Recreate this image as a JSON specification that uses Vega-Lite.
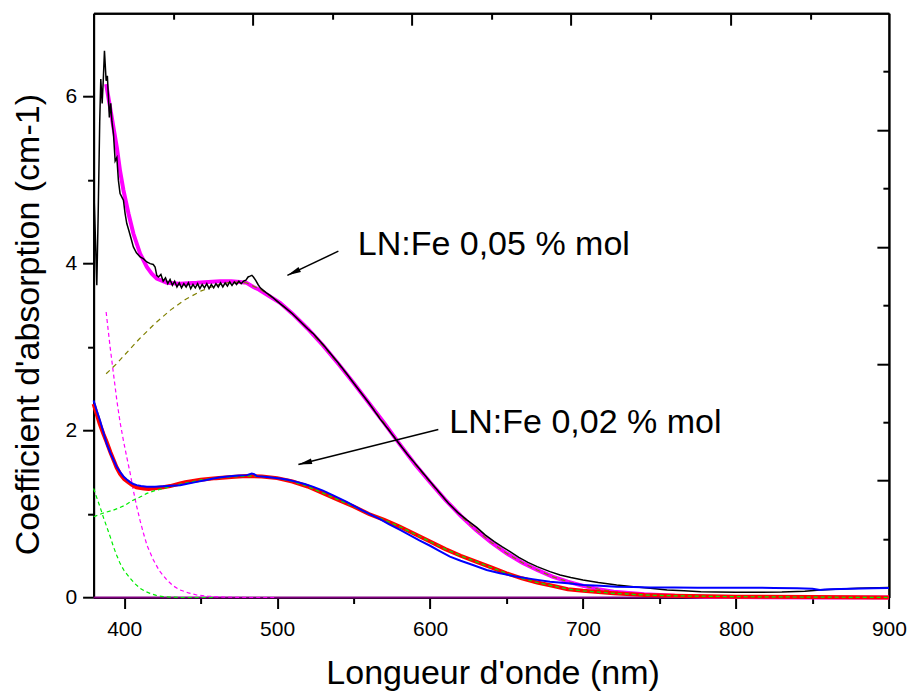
{
  "$schema": "https://vega.github.io/schema/vega-lite/v6.json",
  "width": 795.3,
  "height": 584.3,
  "autosize": {"type": "none"},
  "padding": {"left": 93.6, "top": 13.2, "right": 22.1, "bottom": 93.5},
  "background": "#ffffff",
  "config": {
    "view": {"stroke": null},
    "axis": {
      "grid": false,
      "domainColor": "#000000",
      "domainWidth": 2,
      "tickColor": "#000000",
      "tickWidth": 2,
      "labelFont": "Liberation Sans",
      "labelFontSize": 21,
      "labelColor": "#000000",
      "titleFont": "Liberation Sans",
      "titleFontWeight": "normal",
      "titleColor": "#000000"
    }
  },
  "resolve": {"axis": {"x": "independent", "y": "independent"}},
  "datasets": {
    "curves": [
      {"s": "base", "nm": 380, "k": 0}, {"s": "base", "nm": 900, "k": 0},

      {"s": "uv005", "nm": 388.2, "k": 3.42}, {"s": "uv005", "nm": 390.8, "k": 3.0}, {"s": "uv005", "nm": 393, "k": 2.68}, {"s": "uv005", "nm": 395.2, "k": 2.36}, {"s": "uv005", "nm": 397.3, "k": 2.1}, {"s": "uv005", "nm": 399.5, "k": 1.88}, {"s": "uv005", "nm": 401.7, "k": 1.68}, {"s": "uv005", "nm": 403.9, "k": 1.49}, {"s": "uv005", "nm": 406, "k": 1.28}, {"s": "uv005", "nm": 408.2, "k": 1.09}, {"s": "uv005", "nm": 410.4, "k": 0.92}, {"s": "uv005", "nm": 412.6, "k": 0.77}, {"s": "uv005", "nm": 415, "k": 0.62}, {"s": "uv005", "nm": 419.1, "k": 0.45}, {"s": "uv005", "nm": 423, "k": 0.32}, {"s": "uv005", "nm": 427.9, "k": 0.21}, {"s": "uv005", "nm": 432, "k": 0.14}, {"s": "uv005", "nm": 436.6, "k": 0.09}, {"s": "uv005", "nm": 442, "k": 0.055}, {"s": "uv005", "nm": 447.5, "k": 0.03}, {"s": "uv005", "nm": 455, "k": 0.015}, {"s": "uv005", "nm": 465, "k": 0.005}, {"s": "uv005", "nm": 480, "k": 0}, {"s": "uv005", "nm": 500, "k": 0},

      {"s": "uv002", "nm": 380, "k": 1.306}, {"s": "uv002", "nm": 382, "k": 1.2}, {"s": "uv002", "nm": 384.2, "k": 1.086}, {"s": "uv002", "nm": 386.4, "k": 0.96}, {"s": "uv002", "nm": 388.6, "k": 0.847}, {"s": "uv002", "nm": 391, "k": 0.72}, {"s": "uv002", "nm": 393, "k": 0.608}, {"s": "uv002", "nm": 395, "k": 0.51}, {"s": "uv002", "nm": 397.3, "k": 0.409}, {"s": "uv002", "nm": 400, "k": 0.32}, {"s": "uv002", "nm": 403.9, "k": 0.23}, {"s": "uv002", "nm": 407, "k": 0.165}, {"s": "uv002", "nm": 410.4, "k": 0.11}, {"s": "uv002", "nm": 413.5, "k": 0.075}, {"s": "uv002", "nm": 416.9, "k": 0.05}, {"s": "uv002", "nm": 421, "k": 0.025}, {"s": "uv002", "nm": 425.6, "k": 0.01}, {"s": "uv002", "nm": 436, "k": 0}, {"s": "uv002", "nm": 460, "k": 0},

      {"s": "fit005", "nm": 388.2, "k": 6.15}, {"s": "fit005", "nm": 390.8, "k": 5.87}, {"s": "fit005", "nm": 393, "k": 5.63}, {"s": "fit005", "nm": 395.2, "k": 5.39}, {"s": "fit005", "nm": 397.3, "k": 5.11}, {"s": "fit005", "nm": 399.5, "k": 4.88}, {"s": "fit005", "nm": 402.8, "k": 4.6}, {"s": "fit005", "nm": 406, "k": 4.36}, {"s": "fit005", "nm": 410.4, "k": 4.12}, {"s": "fit005", "nm": 414.8, "k": 3.96}, {"s": "fit005", "nm": 418, "k": 3.88}, {"s": "fit005", "nm": 421.3, "k": 3.82}, {"s": "fit005", "nm": 427.9, "k": 3.77}, {"s": "fit005", "nm": 436, "k": 3.76}, {"s": "fit005", "nm": 447.5, "k": 3.77}, {"s": "fit005", "nm": 455, "k": 3.78}, {"s": "fit005", "nm": 462.7, "k": 3.79}, {"s": "fit005", "nm": 470, "k": 3.79}, {"s": "fit005", "nm": 475.8, "k": 3.78}, {"s": "fit005", "nm": 480, "k": 3.77}, {"s": "fit005", "nm": 484.5, "k": 3.72}, {"s": "fit005", "nm": 488, "k": 3.69}, {"s": "fit005", "nm": 493.2, "k": 3.63}, {"s": "fit005", "nm": 501.9, "k": 3.53}, {"s": "fit005", "nm": 510, "k": 3.4}, {"s": "fit005", "nm": 520, "k": 3.22}, {"s": "fit005", "nm": 530, "k": 3.02}, {"s": "fit005", "nm": 540, "k": 2.8}, {"s": "fit005", "nm": 550, "k": 2.57}, {"s": "fit005", "nm": 560, "k": 2.33}, {"s": "fit005", "nm": 570, "k": 2.09}, {"s": "fit005", "nm": 580, "k": 1.84}, {"s": "fit005", "nm": 590, "k": 1.6}, {"s": "fit005", "nm": 600, "k": 1.38}, {"s": "fit005", "nm": 610, "k": 1.17}, {"s": "fit005", "nm": 620, "k": 0.98}, {"s": "fit005", "nm": 630, "k": 0.81}, {"s": "fit005", "nm": 640, "k": 0.66}, {"s": "fit005", "nm": 650, "k": 0.53}, {"s": "fit005", "nm": 660, "k": 0.42}, {"s": "fit005", "nm": 670, "k": 0.33}, {"s": "fit005", "nm": 680, "k": 0.25}, {"s": "fit005", "nm": 690, "k": 0.19}, {"s": "fit005", "nm": 700, "k": 0.14}, {"s": "fit005", "nm": 710, "k": 0.1}, {"s": "fit005", "nm": 720, "k": 0.07}, {"s": "fit005", "nm": 740, "k": 0.04}, {"s": "fit005", "nm": 760, "k": 0.02}, {"s": "fit005", "nm": 780, "k": 0.01}, {"s": "fit005", "nm": 800, "k": 0.005}, {"s": "fit005", "nm": 850, "k": 0}, {"s": "fit005", "nm": 900, "k": 0},

      {"s": "gauss005", "nm": 388.2, "k": 2.68}, {"s": "gauss005", "nm": 395, "k": 2.8}, {"s": "gauss005", "nm": 400, "k": 2.9}, {"s": "gauss005", "nm": 410, "k": 3.1}, {"s": "gauss005", "nm": 420, "k": 3.28}, {"s": "gauss005", "nm": 430, "k": 3.44}, {"s": "gauss005", "nm": 440, "k": 3.57}, {"s": "gauss005", "nm": 450, "k": 3.67}, {"s": "gauss005", "nm": 460, "k": 3.74}, {"s": "gauss005", "nm": 470, "k": 3.78}, {"s": "gauss005", "nm": 480, "k": 3.77}, {"s": "gauss005", "nm": 490, "k": 3.68}, {"s": "gauss005", "nm": 500, "k": 3.55}, {"s": "gauss005", "nm": 510, "k": 3.4}, {"s": "gauss005", "nm": 520, "k": 3.22}, {"s": "gauss005", "nm": 530, "k": 3.02}, {"s": "gauss005", "nm": 540, "k": 2.8}, {"s": "gauss005", "nm": 550, "k": 2.57}, {"s": "gauss005", "nm": 560, "k": 2.33}, {"s": "gauss005", "nm": 570, "k": 2.09}, {"s": "gauss005", "nm": 580, "k": 1.84}, {"s": "gauss005", "nm": 590, "k": 1.6}, {"s": "gauss005", "nm": 600, "k": 1.38}, {"s": "gauss005", "nm": 610, "k": 1.17}, {"s": "gauss005", "nm": 620, "k": 0.98}, {"s": "gauss005", "nm": 630, "k": 0.81}, {"s": "gauss005", "nm": 640, "k": 0.66}, {"s": "gauss005", "nm": 650, "k": 0.53}, {"s": "gauss005", "nm": 660, "k": 0.42}, {"s": "gauss005", "nm": 670, "k": 0.33}, {"s": "gauss005", "nm": 680, "k": 0.25}, {"s": "gauss005", "nm": 690, "k": 0.19}, {"s": "gauss005", "nm": 700, "k": 0.14}, {"s": "gauss005", "nm": 710, "k": 0.1}, {"s": "gauss005", "nm": 720, "k": 0.07}, {"s": "gauss005", "nm": 740, "k": 0.04}, {"s": "gauss005", "nm": 760, "k": 0.02}, {"s": "gauss005", "nm": 780, "k": 0.01}, {"s": "gauss005", "nm": 800, "k": 0.005}, {"s": "gauss005", "nm": 850, "k": 0}, {"s": "gauss005", "nm": 900, "k": 0},

      {"s": "exp005", "nm": 380.3, "k": 4.8}, {"s": "exp005", "nm": 381.2, "k": 4.3}, {"s": "exp005", "nm": 382.1, "k": 3.74}, {"s": "exp005", "nm": 383.0, "k": 4.6}, {"s": "exp005", "nm": 384.0, "k": 5.7}, {"s": "exp005", "nm": 384.7, "k": 6.21}, {"s": "exp005", "nm": 385.6, "k": 5.92}, {"s": "exp005", "nm": 386.4, "k": 6.23}, {"s": "exp005", "nm": 387.1, "k": 6.55}, {"s": "exp005", "nm": 388.2, "k": 6.19}, {"s": "exp005", "nm": 389.0, "k": 6.25}, {"s": "exp005", "nm": 389.7, "k": 5.99}, {"s": "exp005", "nm": 390.3, "k": 5.75}, {"s": "exp005", "nm": 391.2, "k": 5.92}, {"s": "exp005", "nm": 392.0, "k": 5.7}, {"s": "exp005", "nm": 393.0, "k": 5.55}, {"s": "exp005", "nm": 394.1, "k": 5.23}, {"s": "exp005", "nm": 395.2, "k": 5.27}, {"s": "exp005", "nm": 396.2, "k": 5.0}, {"s": "exp005", "nm": 397.3, "k": 4.84}, {"s": "exp005", "nm": 398.4, "k": 4.8}, {"s": "exp005", "nm": 399.5, "k": 4.76}, {"s": "exp005", "nm": 400.6, "k": 4.6}, {"s": "exp005", "nm": 401.7, "k": 4.48}, {"s": "exp005", "nm": 403.0, "k": 4.4}, {"s": "exp005", "nm": 404.5, "k": 4.3}, {"s": "exp005", "nm": 406.0, "k": 4.2}, {"s": "exp005", "nm": 408.0, "k": 4.13}, {"s": "exp005", "nm": 410.4, "k": 4.08}, {"s": "exp005", "nm": 412.5, "k": 4.06}, {"s": "exp005", "nm": 414.8, "k": 4.02}, {"s": "exp005", "nm": 417.0, "k": 4.0}, {"s": "exp005", "nm": 419.0, "k": 3.99}, {"s": "exp005", "nm": 420.2, "k": 3.96}, {"s": "exp005", "nm": 421.3, "k": 3.86}, {"s": "exp005", "nm": 422.4, "k": 3.84}, {"s": "exp005", "nm": 424.0, "k": 3.87}, {"s": "exp005", "nm": 425.5, "k": 3.79}, {"s": "exp005", "nm": 427.0, "k": 3.83}, {"s": "exp005", "nm": 428.5, "k": 3.76}, {"s": "exp005", "nm": 430.0, "k": 3.81}, {"s": "exp005", "nm": 431.5, "k": 3.74}, {"s": "exp005", "nm": 433.0, "k": 3.79}, {"s": "exp005", "nm": 434.5, "k": 3.72}, {"s": "exp005", "nm": 436.0, "k": 3.77}, {"s": "exp005", "nm": 437.5, "k": 3.71}, {"s": "exp005", "nm": 439.0, "k": 3.76}, {"s": "exp005", "nm": 440.5, "k": 3.72}, {"s": "exp005", "nm": 442.0, "k": 3.77}, {"s": "exp005", "nm": 443.5, "k": 3.7}, {"s": "exp005", "nm": 445.0, "k": 3.75}, {"s": "exp005", "nm": 446.5, "k": 3.71}, {"s": "exp005", "nm": 448.0, "k": 3.76}, {"s": "exp005", "nm": 449.5, "k": 3.7}, {"s": "exp005", "nm": 451.0, "k": 3.75}, {"s": "exp005", "nm": 452.5, "k": 3.71}, {"s": "exp005", "nm": 454.0, "k": 3.76}, {"s": "exp005", "nm": 455.5, "k": 3.7}, {"s": "exp005", "nm": 457.0, "k": 3.75}, {"s": "exp005", "nm": 458.5, "k": 3.71}, {"s": "exp005", "nm": 460.0, "k": 3.76}, {"s": "exp005", "nm": 461.5, "k": 3.72}, {"s": "exp005", "nm": 463.0, "k": 3.77}, {"s": "exp005", "nm": 464.5, "k": 3.72}, {"s": "exp005", "nm": 466.0, "k": 3.77}, {"s": "exp005", "nm": 467.5, "k": 3.73}, {"s": "exp005", "nm": 469.0, "k": 3.78}, {"s": "exp005", "nm": 470.5, "k": 3.74}, {"s": "exp005", "nm": 472.0, "k": 3.78}, {"s": "exp005", "nm": 473.5, "k": 3.75}, {"s": "exp005", "nm": 475.0, "k": 3.79}, {"s": "exp005", "nm": 476.5, "k": 3.76}, {"s": "exp005", "nm": 478.0, "k": 3.79}, {"s": "exp005", "nm": 479.5, "k": 3.8}, {"s": "exp005", "nm": 481.0, "k": 3.84}, {"s": "exp005", "nm": 482.3, "k": 3.85}, {"s": "exp005", "nm": 483.5, "k": 3.86}, {"s": "exp005", "nm": 484.5, "k": 3.84}, {"s": "exp005", "nm": 486.0, "k": 3.8}, {"s": "exp005", "nm": 487.5, "k": 3.75}, {"s": "exp005", "nm": 489.0, "k": 3.71}, {"s": "exp005", "nm": 491.0, "k": 3.68}, {"s": "exp005", "nm": 493.0, "k": 3.65}, {"s": "exp005", "nm": 495.4, "k": 3.62}, {"s": "exp005", "nm": 498.0, "k": 3.58}, {"s": "exp005", "nm": 501.9, "k": 3.52}, {"s": "exp005", "nm": 506.0, "k": 3.46}, {"s": "exp005", "nm": 510.0, "k": 3.4}, {"s": "exp005", "nm": 515.0, "k": 3.31}, {"s": "exp005", "nm": 520.0, "k": 3.22}, {"s": "exp005", "nm": 523.7, "k": 3.16}, {"s": "exp005", "nm": 530.0, "k": 3.03}, {"s": "exp005", "nm": 535.0, "k": 2.92}, {"s": "exp005", "nm": 540.0, "k": 2.81}, {"s": "exp005", "nm": 545.5, "k": 2.68}, {"s": "exp005", "nm": 550.0, "k": 2.57}, {"s": "exp005", "nm": 555.0, "k": 2.45}, {"s": "exp005", "nm": 560.0, "k": 2.33}, {"s": "exp005", "nm": 567.3, "k": 2.14}, {"s": "exp005", "nm": 572.0, "k": 2.03}, {"s": "exp005", "nm": 578.2, "k": 1.88}, {"s": "exp005", "nm": 585.0, "k": 1.72}, {"s": "exp005", "nm": 590.0, "k": 1.61}, {"s": "exp005", "nm": 595.0, "k": 1.5}, {"s": "exp005", "nm": 600.0, "k": 1.39}, {"s": "exp005", "nm": 606.5, "k": 1.25}, {"s": "exp005", "nm": 612.0, "k": 1.13}, {"s": "exp005", "nm": 618.0, "k": 1.02}, {"s": "exp005", "nm": 624.0, "k": 0.93}, {"s": "exp005", "nm": 630.5, "k": 0.84}, {"s": "exp005", "nm": 636.0, "k": 0.75}, {"s": "exp005", "nm": 642.0, "k": 0.67}, {"s": "exp005", "nm": 647.0, "k": 0.61}, {"s": "exp005", "nm": 652.3, "k": 0.55}, {"s": "exp005", "nm": 658.0, "k": 0.48}, {"s": "exp005", "nm": 664.0, "k": 0.42}, {"s": "exp005", "nm": 670.0, "k": 0.37}, {"s": "exp005", "nm": 678.4, "k": 0.31}, {"s": "exp005", "nm": 685.0, "k": 0.27}, {"s": "exp005", "nm": 692.0, "k": 0.24}, {"s": "exp005", "nm": 700.0, "k": 0.21}, {"s": "exp005", "nm": 710.0, "k": 0.18}, {"s": "exp005", "nm": 722.0, "k": 0.15}, {"s": "exp005", "nm": 733.0, "k": 0.13}, {"s": "exp005", "nm": 744.0, "k": 0.11}, {"s": "exp005", "nm": 755.0, "k": 0.09}, {"s": "exp005", "nm": 766.0, "k": 0.08}, {"s": "exp005", "nm": 777.0, "k": 0.07}, {"s": "exp005", "nm": 787.0, "k": 0.066}, {"s": "exp005", "nm": 800.0, "k": 0.062}, {"s": "exp005", "nm": 815.0, "k": 0.062}, {"s": "exp005", "nm": 830.0, "k": 0.065}, {"s": "exp005", "nm": 845.0, "k": 0.075}, {"s": "exp005", "nm": 855.0, "k": 0.09}, {"s": "exp005", "nm": 865.0, "k": 0.1}, {"s": "exp005", "nm": 880.0, "k": 0.11}, {"s": "exp005", "nm": 900.0, "k": 0.12},

      {"s": "fit002", "nm": 380, "k": 2.32}, {"s": "fit002", "nm": 382, "k": 2.2}, {"s": "fit002", "nm": 384, "k": 2.08}, {"s": "fit002", "nm": 386.4, "k": 1.96}, {"s": "fit002", "nm": 388.6, "k": 1.86}, {"s": "fit002", "nm": 391, "k": 1.74}, {"s": "fit002", "nm": 393, "k": 1.65}, {"s": "fit002", "nm": 395, "k": 1.56}, {"s": "fit002", "nm": 397.3, "k": 1.48}, {"s": "fit002", "nm": 400, "k": 1.42}, {"s": "fit002", "nm": 402, "k": 1.39}, {"s": "fit002", "nm": 405, "k": 1.35}, {"s": "fit002", "nm": 408, "k": 1.32}, {"s": "fit002", "nm": 412.6, "k": 1.306}, {"s": "fit002", "nm": 416, "k": 1.3}, {"s": "fit002", "nm": 420, "k": 1.31}, {"s": "fit002", "nm": 425.6, "k": 1.32}, {"s": "fit002", "nm": 430, "k": 1.335}, {"s": "fit002", "nm": 436.6, "k": 1.366}, {"s": "fit002", "nm": 440, "k": 1.38}, {"s": "fit002", "nm": 450, "k": 1.41}, {"s": "fit002", "nm": 460, "k": 1.43}, {"s": "fit002", "nm": 470, "k": 1.445}, {"s": "fit002", "nm": 480, "k": 1.455}, {"s": "fit002", "nm": 490, "k": 1.45}, {"s": "fit002", "nm": 500, "k": 1.43}, {"s": "fit002", "nm": 510, "k": 1.39}, {"s": "fit002", "nm": 520, "k": 1.33}, {"s": "fit002", "nm": 530, "k": 1.25}, {"s": "fit002", "nm": 540, "k": 1.17}, {"s": "fit002", "nm": 550, "k": 1.09}, {"s": "fit002", "nm": 560, "k": 1.0}, {"s": "fit002", "nm": 570, "k": 0.93}, {"s": "fit002", "nm": 580, "k": 0.85}, {"s": "fit002", "nm": 590, "k": 0.76}, {"s": "fit002", "nm": 600, "k": 0.67}, {"s": "fit002", "nm": 610, "k": 0.58}, {"s": "fit002", "nm": 620, "k": 0.5}, {"s": "fit002", "nm": 630, "k": 0.43}, {"s": "fit002", "nm": 640, "k": 0.36}, {"s": "fit002", "nm": 650, "k": 0.29}, {"s": "fit002", "nm": 660, "k": 0.23}, {"s": "fit002", "nm": 670, "k": 0.18}, {"s": "fit002", "nm": 680, "k": 0.14}, {"s": "fit002", "nm": 690, "k": 0.1}, {"s": "fit002", "nm": 700, "k": 0.08}, {"s": "fit002", "nm": 720, "k": 0.05}, {"s": "fit002", "nm": 740, "k": 0.03}, {"s": "fit002", "nm": 760, "k": 0.02}, {"s": "fit002", "nm": 800, "k": 0.01}, {"s": "fit002", "nm": 850, "k": 0.005}, {"s": "fit002", "nm": 900, "k": 0},

      {"s": "gauss002", "nm": 380, "k": 0.967}, {"s": "gauss002", "nm": 386, "k": 1.01}, {"s": "gauss002", "nm": 393, "k": 1.047}, {"s": "gauss002", "nm": 400, "k": 1.1}, {"s": "gauss002", "nm": 406, "k": 1.167}, {"s": "gauss002", "nm": 410, "k": 1.2}, {"s": "gauss002", "nm": 414.8, "k": 1.247}, {"s": "gauss002", "nm": 420, "k": 1.28}, {"s": "gauss002", "nm": 425.6, "k": 1.306}, {"s": "gauss002", "nm": 430, "k": 1.33}, {"s": "gauss002", "nm": 440, "k": 1.37}, {"s": "gauss002", "nm": 450, "k": 1.41}, {"s": "gauss002", "nm": 460, "k": 1.43}, {"s": "gauss002", "nm": 470, "k": 1.445}, {"s": "gauss002", "nm": 480, "k": 1.455}, {"s": "gauss002", "nm": 490, "k": 1.45}, {"s": "gauss002", "nm": 500, "k": 1.43}, {"s": "gauss002", "nm": 510, "k": 1.39}, {"s": "gauss002", "nm": 520, "k": 1.33}, {"s": "gauss002", "nm": 530, "k": 1.25}, {"s": "gauss002", "nm": 540, "k": 1.17}, {"s": "gauss002", "nm": 550, "k": 1.09}, {"s": "gauss002", "nm": 560, "k": 1.0}, {"s": "gauss002", "nm": 570, "k": 0.93}, {"s": "gauss002", "nm": 580, "k": 0.85}, {"s": "gauss002", "nm": 590, "k": 0.76}, {"s": "gauss002", "nm": 600, "k": 0.67}, {"s": "gauss002", "nm": 610, "k": 0.58}, {"s": "gauss002", "nm": 620, "k": 0.5}, {"s": "gauss002", "nm": 630, "k": 0.43}, {"s": "gauss002", "nm": 640, "k": 0.36}, {"s": "gauss002", "nm": 650, "k": 0.29}, {"s": "gauss002", "nm": 660, "k": 0.23}, {"s": "gauss002", "nm": 670, "k": 0.18}, {"s": "gauss002", "nm": 680, "k": 0.14}, {"s": "gauss002", "nm": 690, "k": 0.1}, {"s": "gauss002", "nm": 700, "k": 0.08}, {"s": "gauss002", "nm": 720, "k": 0.05}, {"s": "gauss002", "nm": 740, "k": 0.03}, {"s": "gauss002", "nm": 760, "k": 0.02}, {"s": "gauss002", "nm": 800, "k": 0.01}, {"s": "gauss002", "nm": 850, "k": 0.005}, {"s": "gauss002", "nm": 900, "k": 0},

      {"s": "exp002", "nm": 380, "k": 2.36}, {"s": "exp002", "nm": 382, "k": 2.24}, {"s": "exp002", "nm": 384.2, "k": 2.12}, {"s": "exp002", "nm": 386.4, "k": 1.98}, {"s": "exp002", "nm": 388.6, "k": 1.84}, {"s": "exp002", "nm": 391, "k": 1.73}, {"s": "exp002", "nm": 393, "k": 1.65}, {"s": "exp002", "nm": 395, "k": 1.57}, {"s": "exp002", "nm": 397.3, "k": 1.505}, {"s": "exp002", "nm": 399.5, "k": 1.45}, {"s": "exp002", "nm": 401.7, "k": 1.414}, {"s": "exp002", "nm": 404, "k": 1.38}, {"s": "exp002", "nm": 406, "k": 1.36}, {"s": "exp002", "nm": 408.2, "k": 1.346}, {"s": "exp002", "nm": 411, "k": 1.335}, {"s": "exp002", "nm": 414.8, "k": 1.326}, {"s": "exp002", "nm": 420, "k": 1.328}, {"s": "exp002", "nm": 425.6, "k": 1.334}, {"s": "exp002", "nm": 431, "k": 1.34}, {"s": "exp002", "nm": 436.6, "k": 1.346}, {"s": "exp002", "nm": 442, "k": 1.365}, {"s": "exp002", "nm": 447.5, "k": 1.385}, {"s": "exp002", "nm": 453, "k": 1.405}, {"s": "exp002", "nm": 458.3, "k": 1.426}, {"s": "exp002", "nm": 463, "k": 1.44}, {"s": "exp002", "nm": 469.2, "k": 1.454}, {"s": "exp002", "nm": 475, "k": 1.462}, {"s": "exp002", "nm": 480.2, "k": 1.466}, {"s": "exp002", "nm": 483.4, "k": 1.486}, {"s": "exp002", "nm": 485, "k": 1.478}, {"s": "exp002", "nm": 486.7, "k": 1.454}, {"s": "exp002", "nm": 490, "k": 1.45}, {"s": "exp002", "nm": 495, "k": 1.44}, {"s": "exp002", "nm": 501.9, "k": 1.426}, {"s": "exp002", "nm": 507, "k": 1.41}, {"s": "exp002", "nm": 512.8, "k": 1.385}, {"s": "exp002", "nm": 518, "k": 1.36}, {"s": "exp002", "nm": 523.7, "k": 1.326}, {"s": "exp002", "nm": 530, "k": 1.28}, {"s": "exp002", "nm": 537, "k": 1.22}, {"s": "exp002", "nm": 545.5, "k": 1.146}, {"s": "exp002", "nm": 550, "k": 1.1}, {"s": "exp002", "nm": 556, "k": 1.04}, {"s": "exp002", "nm": 561, "k": 0.995}, {"s": "exp002", "nm": 567.3, "k": 0.94}, {"s": "exp002", "nm": 573, "k": 0.88}, {"s": "exp002", "nm": 580.4, "k": 0.81}, {"s": "exp002", "nm": 587, "k": 0.745}, {"s": "exp002", "nm": 593, "k": 0.685}, {"s": "exp002", "nm": 600, "k": 0.62}, {"s": "exp002", "nm": 606, "k": 0.56}, {"s": "exp002", "nm": 613, "k": 0.49}, {"s": "exp002", "nm": 620, "k": 0.44}, {"s": "exp002", "nm": 628, "k": 0.39}, {"s": "exp002", "nm": 637, "k": 0.33}, {"s": "exp002", "nm": 645.7, "k": 0.29}, {"s": "exp002", "nm": 655, "k": 0.255}, {"s": "exp002", "nm": 667, "k": 0.22}, {"s": "exp002", "nm": 678.4, "k": 0.19}, {"s": "exp002", "nm": 690, "k": 0.17}, {"s": "exp002", "nm": 700.2, "k": 0.15}, {"s": "exp002", "nm": 711, "k": 0.14}, {"s": "exp002", "nm": 722, "k": 0.13}, {"s": "exp002", "nm": 733, "k": 0.125}, {"s": "exp002", "nm": 743.8, "k": 0.12}, {"s": "exp002", "nm": 760, "k": 0.12}, {"s": "exp002", "nm": 775, "k": 0.118}, {"s": "exp002", "nm": 790, "k": 0.117}, {"s": "exp002", "nm": 809, "k": 0.118}, {"s": "exp002", "nm": 825, "k": 0.115}, {"s": "exp002", "nm": 840, "k": 0.11}, {"s": "exp002", "nm": 850, "k": 0.105}, {"s": "exp002", "nm": 855, "k": 0.09}, {"s": "exp002", "nm": 858, "k": 0.095}, {"s": "exp002", "nm": 862, "k": 0.1}, {"s": "exp002", "nm": 875, "k": 0.105}, {"s": "exp002", "nm": 890, "k": 0.11}, {"s": "exp002", "nm": 900, "k": 0.115}
    ],
    "labels": [
      {"id": "a", "text": "LN:Fe 0,05 % mol", "tx": 552.7, "ty": 4.098},
      {"id": "b", "text": "LN:Fe 0,02 % mol", "tx": 612.6, "ty": 1.965}
    ],
    "arrows": [
      {"id": "a", "x1": 540.05, "y1": 4.149, "xt": 506.7, "yt": 3.859, "hx": 510.8, "hy": 3.894},
      {"id": "b", "x1": 605.4, "y1": 2.012, "xt": 513.9, "yt": 1.594, "hx": 518.3, "hy": 1.614}
    ]
  },
  "layer": [
    {
      "data": {"name": "curves"},
      "transform": [{"filter": "datum.s === 'base'"}],
      "mark": {"type": "line", "color": "#800080", "strokeWidth": 2},
      "encoding": {
        "x": {"field": "nm", "type": "quantitative", "scale": {"domain": [380, 900], "nice": false, "zero": false},
          "axis": {"orient": "bottom", "values": [400, 500, 600, 700, 800, 900], "format": "d", "tickSize": 11, "labelPadding": 10, "labelFlush": false, "labelOverlap": false,
            "title": "Longueur d'onde (nm)", "titleFontSize": 34, "titleX": 399, "titleY": 86, "titleBaseline": "alphabetic", "titleAlign": "center", "titleAnchor": null}},
        "y": {"field": "k", "type": "quantitative", "scale": {"domain": [0, 7], "nice": false, "zero": false},
          "axis": {"orient": "left", "values": [0, 2, 4, 6], "format": "d", "tickSize": 11, "labelPadding": 6, "labelOverlap": false, "labelFlush": false,
            "title": "Coefficient d'absorption (cm-1)", "titleFontSize": 34, "titleAngle": 270, "titleX": -55, "titleY": 311, "titleBaseline": "alphabetic", "titleAlign": "center", "titleAnchor": null}}
      }
    },
    {
      "data": {"name": "curves"},
      "transform": [{"filter": "datum.s === 'uv005'"}],
      "mark": {"type": "line", "color": "#ff00ff", "strokeWidth": 1.2, "strokeDash": [4, 3]},
      "encoding": {
        "x": {"field": "nm", "type": "quantitative", "scale": {"domain": [380, 900], "nice": false, "zero": false},
          "axis": {"orient": "bottom", "values": [450, 550, 650, 750, 850], "tickSize": 6, "labels": false, "title": null}},
        "y": {"field": "k", "type": "quantitative", "scale": {"domain": [0, 7], "nice": false, "zero": false},
          "axis": {"orient": "left", "values": [1, 3, 5], "tickSize": 6, "labels": false, "title": null}}
      }
    },
    {
      "data": {"name": "curves"},
      "transform": [{"filter": "datum.s === 'uv002'"}],
      "mark": {"type": "line", "color": "#00ee00", "strokeWidth": 1.2, "strokeDash": [4, 3]},
      "encoding": {
        "x": {"field": "nm", "type": "quantitative", "scale": {"domain": [380, 900], "nice": false, "zero": false},
          "axis": {"orient": "top", "values": [484.0, 587.9, 692.1, 796.3], "tickSize": -12, "labels": false, "title": null}},
        "y": {"field": "k", "type": "quantitative", "scale": {"domain": [0, 7], "nice": false, "zero": false},
          "axis": {"orient": "right", "values": [1.4, 2.8, 4.2, 5.6], "tickSize": -12, "labels": false, "title": null}}
      }
    },
    {
      "data": {"name": "curves"},
      "transform": [{"filter": "datum.s === 'fit005'"}],
      "mark": {"type": "line", "color": "#ff00ff", "strokeWidth": 4},
      "encoding": {
        "x": {"field": "nm", "type": "quantitative", "scale": {"domain": [380, 900], "nice": false, "zero": false},
          "axis": {"orient": "top", "values": [432.2, 536.1, 640.0, 744.3, 848.5], "tickSize": -6, "labels": false, "title": null}},
        "y": {"field": "k", "type": "quantitative", "scale": {"domain": [0, 7], "nice": false, "zero": false},
          "axis": {"orient": "right", "values": [0.7, 2.1, 3.5, 4.9, 6.3], "tickSize": -6, "labels": false, "title": null}}
      }
    },
    {
      "data": {"name": "curves"},
      "transform": [{"filter": "datum.s === 'gauss005'"}],
      "mark": {"type": "line", "color": "#808000", "strokeWidth": 1.2, "strokeDash": [5, 4]},
      "encoding": {
        "x": {"field": "nm", "type": "quantitative", "scale": {"domain": [380, 900], "nice": false, "zero": false}, "axis": null},
        "y": {"field": "k", "type": "quantitative", "scale": {"domain": [0, 7], "nice": false, "zero": false}, "axis": null}
      }
    },
    {
      "data": {"name": "curves"},
      "transform": [{"filter": "datum.s === 'exp005'"}],
      "mark": {"type": "line", "color": "#000000", "strokeWidth": 1.5},
      "encoding": {
        "x": {"field": "nm", "type": "quantitative", "scale": {"domain": [380, 900], "nice": false, "zero": false}, "axis": null},
        "y": {"field": "k", "type": "quantitative", "scale": {"domain": [0, 7], "nice": false, "zero": false}, "axis": null}
      }
    },
    {
      "data": {"name": "curves"},
      "transform": [{"filter": "datum.s === 'fit002'"}],
      "mark": {"type": "line", "color": "#ff0000", "strokeWidth": 4},
      "encoding": {
        "x": {"field": "nm", "type": "quantitative", "scale": {"domain": [380, 900], "nice": false, "zero": false}, "axis": null},
        "y": {"field": "k", "type": "quantitative", "scale": {"domain": [0, 7], "nice": false, "zero": false}, "axis": null}
      }
    },
    {
      "data": {"name": "curves"},
      "transform": [{"filter": "datum.s === 'gauss002'"}],
      "mark": {"type": "line", "color": "#00ee00", "strokeWidth": 1.2, "strokeDash": [4, 3]},
      "encoding": {
        "x": {"field": "nm", "type": "quantitative", "scale": {"domain": [380, 900], "nice": false, "zero": false}, "axis": null},
        "y": {"field": "k", "type": "quantitative", "scale": {"domain": [0, 7], "nice": false, "zero": false}, "axis": null}
      }
    },
    {
      "data": {"name": "curves"},
      "transform": [{"filter": "datum.s === 'exp002'"}],
      "mark": {"type": "line", "color": "#0000ff", "strokeWidth": 2},
      "encoding": {
        "x": {"field": "nm", "type": "quantitative", "scale": {"domain": [380, 900], "nice": false, "zero": false}, "axis": null},
        "y": {"field": "k", "type": "quantitative", "scale": {"domain": [0, 7], "nice": false, "zero": false}, "axis": null}
      }
    },
    {
      "data": {"name": "arrows"},
      "mark": {"type": "rule", "color": "#000000", "strokeWidth": 1.5},
      "encoding": {
        "x": {"field": "x1", "type": "quantitative", "axis": null},
        "y": {"field": "y1", "type": "quantitative", "axis": null},
        "x2": {"field": "xt"},
        "y2": {"field": "yt"}
      }
    },
    {
      "data": {"name": "arrows"},
      "transform": [{"filter": "datum.id === 'a'"}],
      "mark": {"type": "point", "shape": "M-1,0L1,-0.42L1,0.42Z", "filled": true, "color": "#000000", "opacity": 1, "size": 180, "angle": 334.5, "strokeWidth": 0},
      "encoding": {
        "x": {"field": "hx", "type": "quantitative", "axis": null},
        "y": {"field": "hy", "type": "quantitative", "axis": null}
      }
    },
    {
      "data": {"name": "arrows"},
      "transform": [{"filter": "datum.id === 'b'"}],
      "mark": {"type": "point", "shape": "M-1,0L1,-0.42L1,0.42Z", "filled": true, "color": "#000000", "opacity": 1, "size": 180, "angle": 346, "strokeWidth": 0},
      "encoding": {
        "x": {"field": "hx", "type": "quantitative", "axis": null},
        "y": {"field": "hy", "type": "quantitative", "axis": null}
      }
    },
    {
      "data": {"name": "labels"},
      "mark": {"type": "text", "align": "left", "baseline": "alphabetic", "font": "Liberation Sans", "fontSize": 34, "color": "#000000"},
      "encoding": {
        "x": {"field": "tx", "type": "quantitative", "axis": null},
        "y": {"field": "ty", "type": "quantitative", "axis": null},
        "text": {"field": "text"}
      }
    }
  ]
}
